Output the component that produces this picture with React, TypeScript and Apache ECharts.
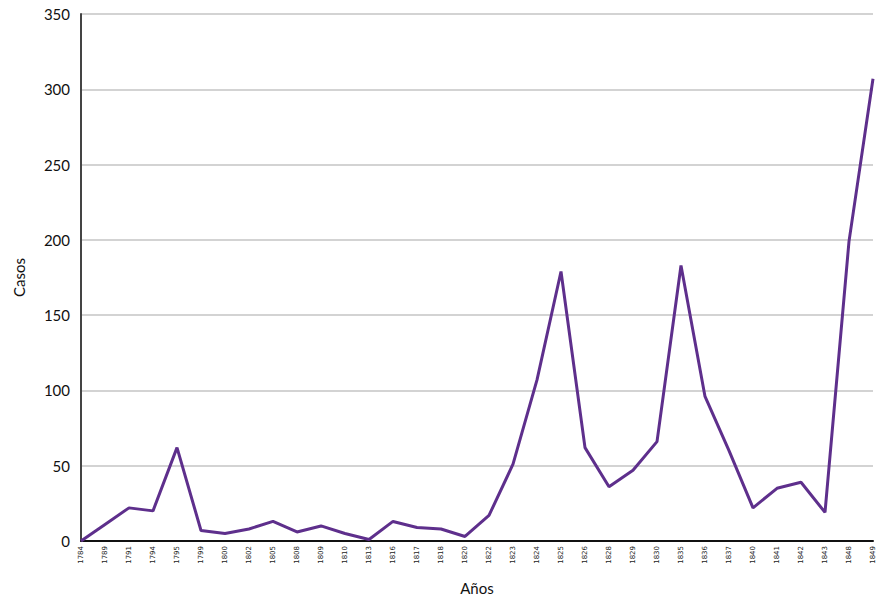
import React, { useEffect, useRef } from "react";
import * as echarts from "echarts";

const years = [
  "1784", "1789", "1791", "1794", "1795", "1799", "1800", "1802", "1805", "1808",
  "1809", "1810", "1813", "1816", "1817", "1818", "1820", "1822", "1823", "1824",
  "1825", "1826", "1828", "1829", "1830", "1835", "1836", "1837", "1840", "1841",
  "1842", "1843", "1848", "1849",
];

const casos = [
  0, 11, 22, 20, 62, 7, 5, 8, 13, 6,
  10, 5, 1, 13, 9, 8, 3, 17, 51, 107,
  179, 62, 36, 47, 66, 183, 96, 60, 22, 35,
  39, 19, 199, 307,
];

const yMin = 0;
const yMax = 350;
const yStep = 50;

export default function App() {
  const ref = useRef<HTMLDivElement>(null);

  useEffect(() => {
    if (!ref.current) return;
    const chart = echarts.init(ref.current, null, { renderer: "svg" });
    const font = "Lato, 'Open Sans', sans-serif";
    chart.setOption({
      animation: false,
      backgroundColor: "#ffffff",
      grid: {
        left: 81,
        right: 18,
        top: 14,
        bottom: 63,
        containLabel: false,
        outerBoundsMode: "none",
      },
      xAxis: {
        type: "category",
        data: years,
        boundaryGap: false,
        name: "Años",
        nameLocation: "middle",
        nameGap: 39,
        nameTextStyle: { fontFamily: font, fontSize: 15, color: "#111" },
        axisLine: { lineStyle: { color: "#111", width: 2 } },
        axisTick: { show: false },
        axisLabel: {
          rotate: 90,
          interval: 0,
          fontSize: 7,
          fontFamily: "'DejaVu Sans', sans-serif",
          color: "#222",
          margin: 5,
        },
        splitLine: { show: false },
      },
      yAxis: {
        type: "value",
        min: yMin,
        max: yMax,
        interval: yStep,
        name: "Casos",
        nameLocation: "middle",
        nameGap: 55,
        nameTextStyle: { fontFamily: font, fontSize: 15, color: "#111" },
        axisLine: { show: true, lineStyle: { color: "#444", width: 2 } },
        axisTick: { show: false },
        axisLabel: { fontFamily: font, fontSize: 15, color: "#111", margin: 11 },
        splitLine: { lineStyle: { color: "#c4c4c4", width: 1.5 } },
      },
      series: [
        {
          type: "line",
          data: casos,
          symbol: "none",
          lineStyle: { color: "#5e2f8c", width: 3 },
          z: 3,
        },
      ],
    });
    return () => chart.dispose();
  }, []);

  return (
    <div
      ref={ref}
      style={{ position: "absolute", left: 0, top: 0, width: 891, height: 604 }}
    />
  );
}
